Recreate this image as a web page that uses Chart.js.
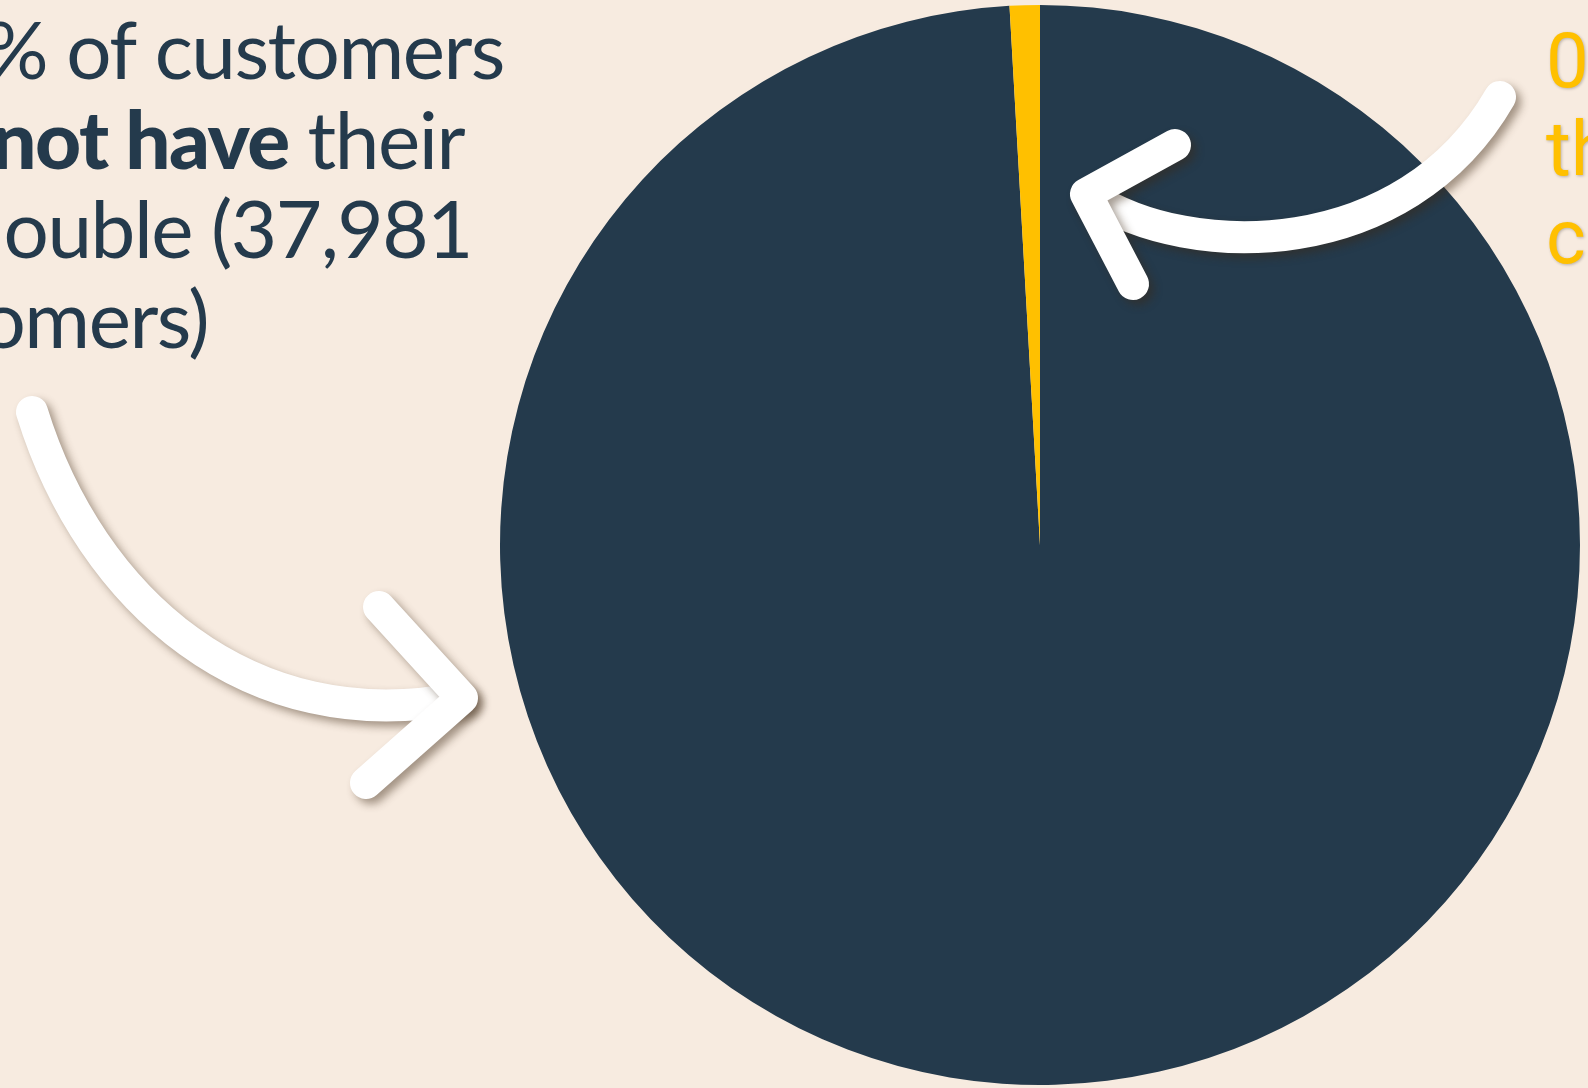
<!DOCTYPE html>
<html lang="en">
<head>
    <meta charset="UTF-8">
    <title>Customers and their double</title>
    <script src="https://cdn.jsdelivr.net/npm/chart.js@4.4.1/dist/chart.umd.min.js"></script>
    <style>
        html, body { margin: 0; padding: 0; background: #f7ebe0; overflow: hidden; }
        #wrap { width: 1588px; height: 1088px; }
    </style>
</head>
<body>
<div id="wrap"><canvas id="pie"></canvas></div>
<script>
    // data
    var labels = ['Do not have their double', 'Have their double'];
    var shares = [99.1, 0.9];
    var sliceColors = ['#243a4c', '#ffc000'];

    // left caption (bold parts flagged), each line ends at its own x
    var leftLines = [
        [{t: '99.1% of customers', b: false}],
        [{t: 'do ', b: false}, {t: 'not have', b: true}, {t: ' their', b: false}],
        [{t: 'double (37,981', b: false}],
        [{t: 'customers)', b: false}]
    ];
    var leftLineEnds = [504, 464, 472, 208];
    var rightLines = ['0.9% of customers have', 'their double (345', 'customers)'];

    var navy = '#243a4c';
    var yellow = '#ffc000';

    // 텍스트 + 화살표 그리기
    var decoPlugin = {
        id: 'deco',
        afterDraw: function(chart) {
            var ctx = chart.ctx;
            ctx.save();

            // left text
            ctx.fillStyle = navy;
            ctx.textBaseline = 'alphabetic';
            ctx.letterSpacing = '-1.5px';
            var baseY = 79;
            leftLines.forEach(function(line, i) {
                var total = 0;
                line.forEach(function(seg) {
                    ctx.font = (seg.b ? '900 ' : '400 ') + '80px Lato';
                    total += ctx.measureText(seg.t).width;
                });
                var x = leftLineEnds[i] - total;
                line.forEach(function(seg) {
                    ctx.font = (seg.b ? '900 ' : '400 ') + '80px Lato';
                    ctx.fillText(seg.t, x, baseY + i * 89.5);
                    x += ctx.measureText(seg.t).width;
                });
            });
            ctx.letterSpacing = '0px';

            // right text
            ctx.fillStyle = yellow;
            ctx.font = '400 76px Roboto';
            ctx.shadowColor = 'rgba(0,0,0,0.25)';
            ctx.shadowBlur = 3;
            ctx.shadowOffsetX = 1;
            ctx.shadowOffsetY = 1;
            rightLines.forEach(function(t, i) {
                ctx.fillText(t, 1546, 87 + i * 88);
            });

            // arrows
            ctx.strokeStyle = '#ffffff';
            ctx.lineWidth = 32;
            ctx.lineCap = 'round';
            ctx.lineJoin = 'round';
            ctx.shadowColor = 'rgba(60,40,20,0.45)';
            ctx.shadowBlur = 8;
            ctx.shadowOffsetX = 5;
            ctx.shadowOffsetY = 5;

            // left arrow
            ctx.beginPath();
            ctx.moveTo(32, 412);
            ctx.bezierCurveTo(90, 600, 250, 740, 460, 698);
            ctx.stroke();
            ctx.beginPath();
            ctx.moveTo(379, 607);
            ctx.lineTo(462, 698);
            ctx.lineTo(366, 783);
            ctx.stroke();

            // right arrow
            ctx.beginPath();
            ctx.moveTo(1500, 97);
            ctx.bezierCurveTo(1405, 262, 1190, 262, 1090, 196);
            ctx.stroke();
            ctx.beginPath();
            ctx.moveTo(1175, 145);
            ctx.lineTo(1086, 194);
            ctx.lineTo(1133, 284);
            ctx.stroke();

            ctx.restore();
        }
    };

    var ctx = document.getElementById('pie').getContext('2d');
    var myChart = new Chart(ctx, {
        type: 'pie',
        data: {
            labels: labels,
            datasets: [{
                data: shares,
                backgroundColor: sliceColors,
                borderWidth: 0
            }]
        },
        options: {
            responsive: true,
            maintainAspectRatio: false,
            animation: false,
            layout: {
                padding: { left: 500, right: 8, top: 5, bottom: 3 }
            },
            plugins: {
                legend: { display: false },
                tooltip: { enabled: false }
            }
        },
        plugins: [decoPlugin]
    });
</script>
</body>
</html>
